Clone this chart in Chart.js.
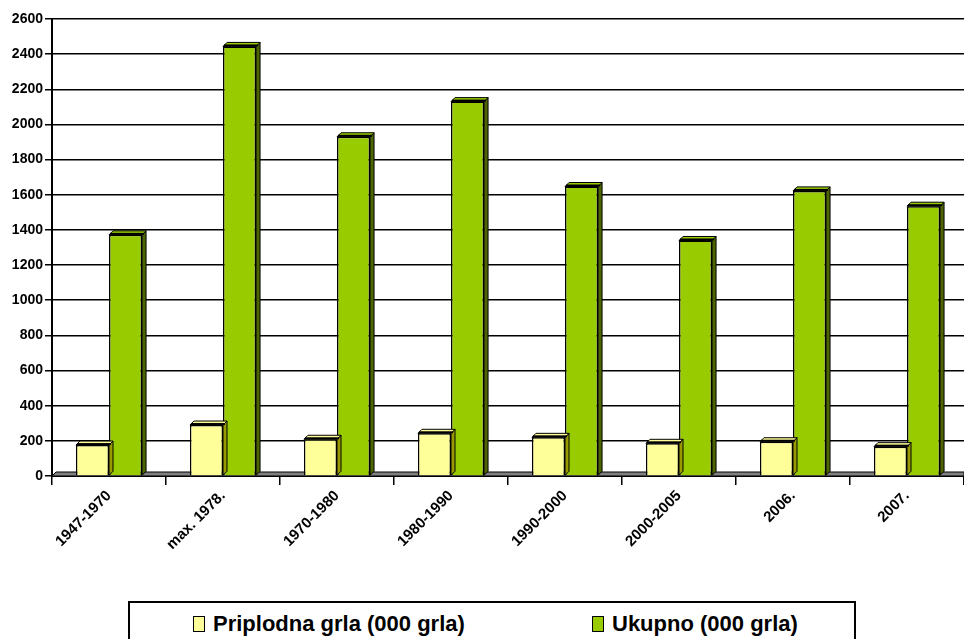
<!DOCTYPE html>
<html>
<head>
<meta charset="utf-8">
<script src="https://cdn.jsdelivr.net/npm/chart.js@4.4.1/dist/chart.umd.min.js"></script>
<style>
  html, body { margin: 0; padding: 0; background: #fff; overflow: hidden; }
  #wrap { position: relative; width: 964px; height: 639px; }
  #box { position: absolute; left: 0; top: 0; width: 964px; height: 590px; }
  #legend {
    position: absolute; left: 128px; top: 601px; width: 728px; height: 60px;
    border: 2px solid #000; box-sizing: border-box;
    font: bold 22px "Liberation Sans", Arial, sans-serif;
  }
  #legend .item { position: absolute; top: 8px; display: flex; align-items: center; }
  #legend .sw { width: 10px; height: 14px; border: 1px solid #000; margin-right: 8px; }
</style>
</head>
<body>
<div id="wrap">
  <div id="box"><canvas id="chartGrla"></canvas></div>
  <div id="legend"></div>
</div>
<script>
const kategorije = ['1947-1970', 'max. 1978.', '1970-1980', '1980-1990', '1990-2000', '2000-2005', '2006.', '2007.'];
const priplodnaGrla = [176, 290, 209, 243, 220, 186, 195, 167];
const ukupno = [1372, 2444, 1930, 2130, 1647, 1340, 1622, 1535];
const nazivSerija = ['Priplodna grla (000 grla)', 'Ukupno (000 grla)'];

const boje = ['#FFFF99', '#99CC00'];
const bojeStrana = ['#999900', '#4D6600'];

// simple 3d look: floor strip behind bars, top + side faces on bars
const efekt3d = {
    id: 'efekt3d',
    beforeDatasetsDraw(chart) {
        const ctx = chart.ctx;
        const a = chart.chartArea;
        const base = chart.scales.y.getPixelForValue(0);
        ctx.save();
        ctx.fillStyle = '#808080';
        ctx.strokeStyle = '#000';
        ctx.lineWidth = 1;
        ctx.beginPath();
        ctx.moveTo(a.left, base);
        ctx.lineTo(a.left + 4, base - 4);
        ctx.lineTo(a.right, base - 4);
        ctx.lineTo(a.right, base);
        ctx.closePath();
        ctx.fill();
        ctx.stroke();
        ctx.restore();
    },
    afterDatasetsDraw(chart) {
        const ctx = chart.ctx;
        const dx = 4, dy = 4;
        ctx.save();
        ctx.strokeStyle = '#000';
        ctx.lineWidth = 1;
        chart.data.datasets.forEach((ds, i) => {
            chart.getDatasetMeta(i).data.forEach(bar => {
                const l = bar.x - bar.width / 2;
                const r = bar.x + bar.width / 2;
                const t = bar.y;
                const b = bar.base;
                ctx.fillStyle = bojeStrana[i];
                ctx.beginPath();
                ctx.moveTo(r, t);
                ctx.lineTo(r + dx, t - dy);
                ctx.lineTo(r + dx, b - dy);
                ctx.lineTo(r, b);
                ctx.closePath();
                ctx.fill();
                ctx.stroke();
                ctx.fillStyle = boje[i];
                ctx.beginPath();
                ctx.moveTo(l, t);
                ctx.lineTo(l + dx, t - dy);
                ctx.lineTo(r + dx, t - dy);
                ctx.lineTo(r, t);
                ctx.closePath();
                ctx.fill();
                ctx.stroke();
                ctx.fillStyle = '#000';
                ctx.fillRect(l + 1, t - 2, r - l + 1, 2);
            });
        });
        ctx.restore();
    }
};

const ctxGrla = document.getElementById('chartGrla').getContext('2d');

const chartGrla = new Chart(ctxGrla, {
    type: 'bar',
    data: {
        labels: kategorije,
        datasets: [
            {
                label: nazivSerija[0],
                data: priplodnaGrla,
                backgroundColor: boje[0],
                borderColor: '#000',
                borderWidth: 1.5
            },
            {
                label: nazivSerija[1],
                data: ukupno,
                backgroundColor: boje[1],
                borderColor: '#000',
                borderWidth: 1.5
            }
        ]
    },
    options: {
        responsive: true,
        maintainAspectRatio: false,
        animation: false,
        layout: {
            padding: { top: 19, right: 0, left: 0, bottom: 0 }
        },
        datasets: {
            bar: {
                categoryPercentage: 0.58,
                barPercentage: 1
            }
        },
        plugins: {
            legend: { display: false },
            tooltip: { enabled: false }
        },
        scales: {
            x: {
                afterFit: scale => { scale.height = 114; },
                border: { color: '#000', width: 2 },
                grid: {
                    drawOnChartArea: false,
                    color: '#000',
                    lineWidth: 1.5,
                    tickLength: 9
                },
                ticks: {
                    color: '#000',
                    minRotation: 45,
                    maxRotation: 45,
                    padding: 2,
                    font: { family: 'Liberation Sans', size: 15, weight: 'bold' }
                }
            },
            y: {
                min: 0,
                max: 2600,
                afterFit: scale => { scale.width = 52; },
                border: { color: '#000', width: 2 },
                grid: {
                    color: '#000',
                    lineWidth: 1.5,
                    tickLength: 7
                },
                ticks: {
                    stepSize: 200,
                    color: '#000',
                    padding: 2,
                    callback: v => String(v),
                    font: { family: 'Liberation Sans', size: 14, weight: 'bold' }
                }
            }
        }
    },
    plugins: [efekt3d]
});

// legend in the bordered box under the chart
const legenda = document.getElementById('legend');
const pozicije = [63, 462];
chartGrla.data.datasets.forEach((ds, i) => {
    const el = document.createElement('div');
    el.className = 'item';
    el.style.left = pozicije[i] + 'px';
    const sw = document.createElement('span');
    sw.className = 'sw';
    sw.style.background = ds.backgroundColor;
    const txt = document.createElement('span');
    txt.textContent = ds.label;
    el.appendChild(sw);
    el.appendChild(txt);
    legenda.appendChild(el);
});
</script>
</body>
</html>
